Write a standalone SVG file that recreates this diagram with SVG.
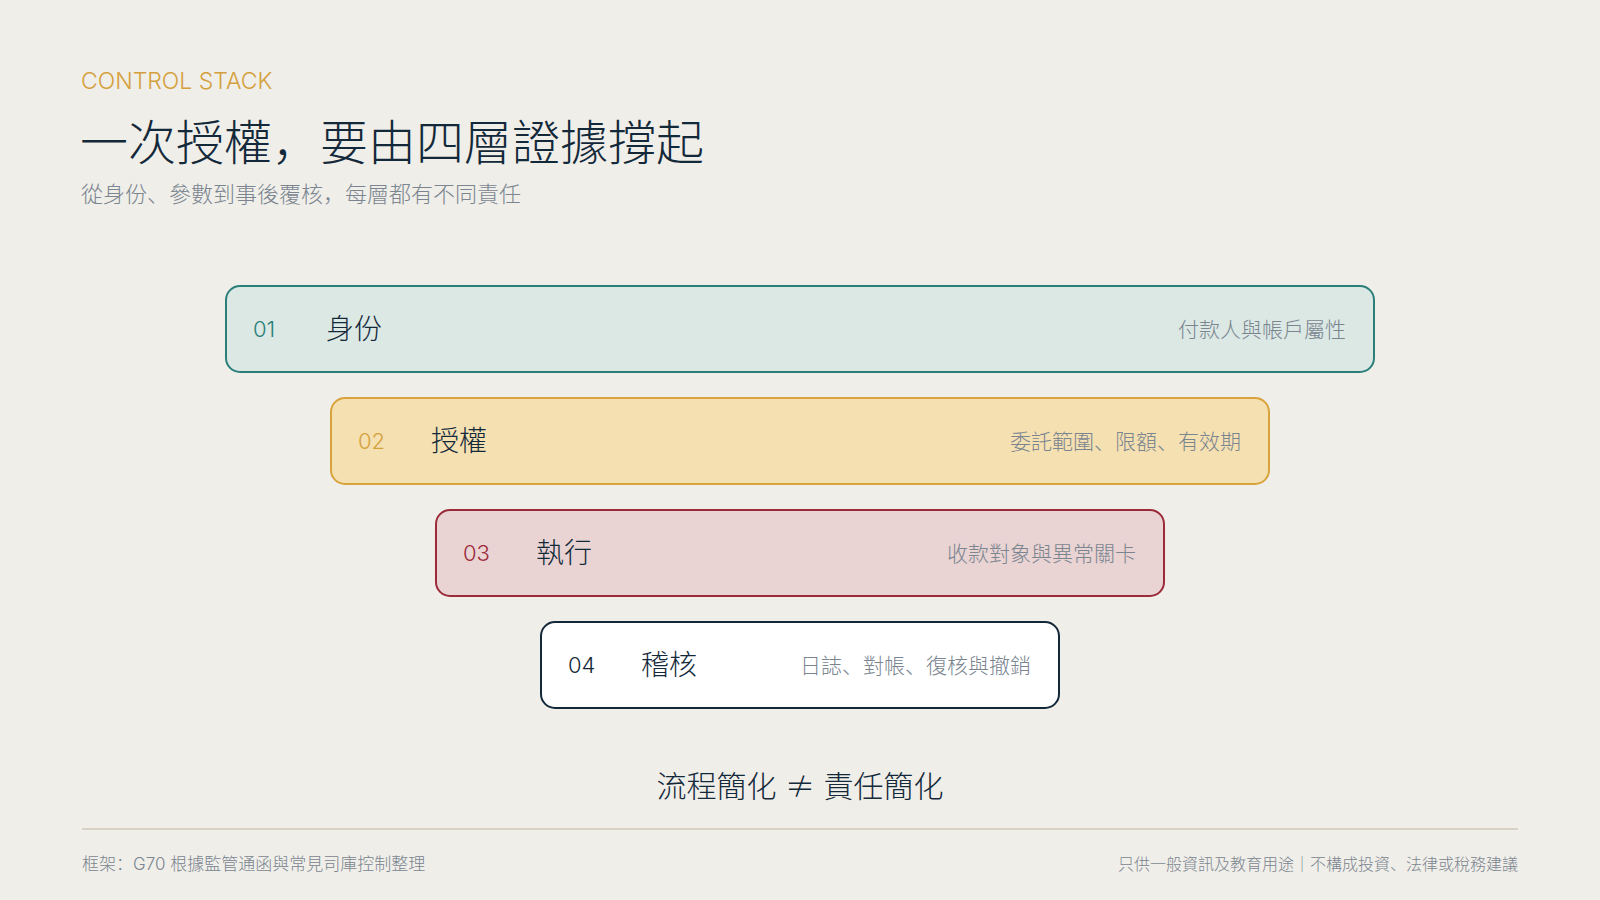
<svg xmlns="http://www.w3.org/2000/svg" width="1600" height="900" viewBox="0 0 1600 900">
<style>
text{font-family:Inter,"Noto Sans CJK SC",sans-serif;font-weight:300;}
.num{font-size:22px;dominant-baseline:central;}
.lbl{font-size:28px;fill:#13293a;dominant-baseline:central;}
.desc{font-size:21px;fill:#7a8590;dominant-baseline:central;text-anchor:end;}
.box{stroke-width:2;}
</style>
<rect width="1600" height="900" fill="#f0eee9"/>
<g id="header">
<text x="81" y="89" font-size="23" fill="#d4a03c">CONTROL STACK</text>
<text x="80" y="160" font-size="48" fill="#13293a">一次授權，要由四層證據撐起</text>
<text x="81" y="202" font-size="22" fill="#7a8590">從身份、參數到事後覆核，每層都有不同責任</text>
</g>
<g id="layer1">
<rect class="box" x="226" y="286" width="1148" height="86" rx="14" fill="#dce8e4" stroke="#2a7f7a"/>
<text class="num" x="253" y="329" fill="#2a7f7a">01</text>
<text class="lbl" x="326" y="329">身份</text>
<text class="desc" x="1346" y="329">付款人與帳戶屬性</text>
</g>
<g id="layer2">
<rect class="box" x="331" y="398" width="938" height="86" rx="14" fill="#f5e0b2" stroke="#d8a33c"/>
<text class="num" x="358" y="441" fill="#d4a03c">02</text>
<text class="lbl" x="431" y="441">授權</text>
<text class="desc" x="1241" y="441">委託範圍、限額、有效期</text>
</g>
<g id="layer3">
<rect class="box" x="436" y="510" width="728" height="86" rx="14" fill="#e9d3d3" stroke="#9b2a3a"/>
<text class="num" x="463" y="553" fill="#9b2a3a">03</text>
<text class="lbl" x="536" y="553">執行</text>
<text class="desc" x="1136" y="553">收款對象與異常關卡</text>
</g>
<g id="layer4">
<rect class="box" x="541" y="622" width="518" height="86" rx="14" fill="#ffffff" stroke="#13293a"/>
<text class="num" x="568" y="665" fill="#13293a">04</text>
<text class="lbl" x="641" y="665">稽核</text>
<text class="desc" x="1031" y="665">日誌、對帳、復核與撤銷</text>
</g>
<g id="connectors"></g>
<g id="footer">
<text x="800" y="797" font-size="30" fill="#13293a" text-anchor="middle">流程簡化 <tspan font-family="'Noto Sans CJK SC',sans-serif">≠</tspan> 責任簡化</text>
<line x1="82" y1="829" x2="1518" y2="829" stroke="#d8d2c6" stroke-width="2"/>
<text x="82" y="870" font-size="17" fill="#7a8590">框架：G70 根據監管通函與常見司庫控制整理</text>
<text x="1518" y="870" font-size="16" fill="#7a8590" text-anchor="end">只供一般資訊及教育用途｜不構成投資、法律或稅務建議</text>
</g>
</svg>
